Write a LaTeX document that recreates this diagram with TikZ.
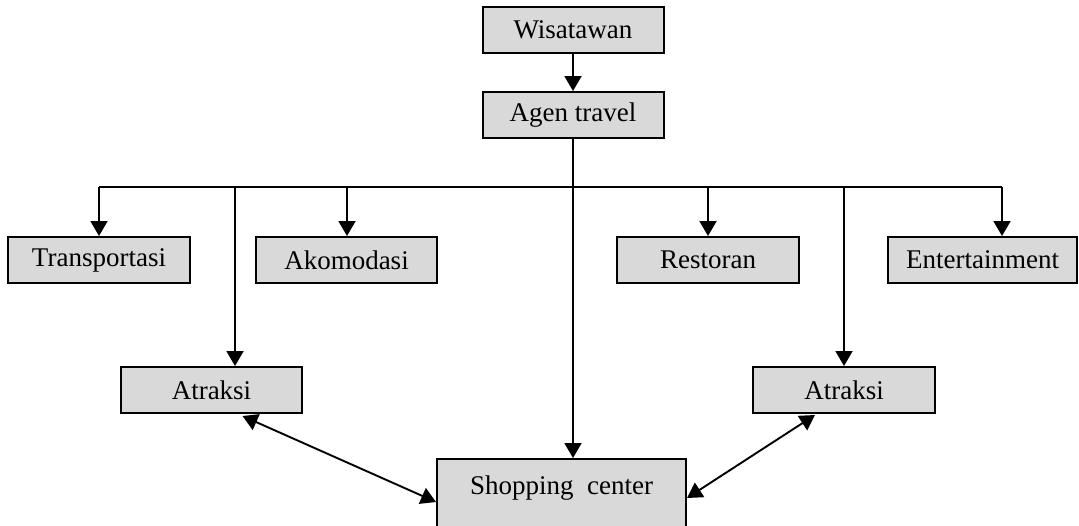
\documentclass[tikz,border=0pt]{standalone}
\usepackage{fontspec}
\setmainfont{Liberation Serif}
\usetikzlibrary{arrows.meta,calc}
\definecolor{boxgray}{RGB}{217,217,217}
\begin{document}
\begin{tikzpicture}[x=0.5pt,y=-0.5pt,
  box/.style={draw=black,line width=1pt,fill=boxgray,rectangle,minimum height=23pt,
    inner sep=0pt,font=\fontsize{13.5}{15}\selectfont},
  conn/.style={line width=0.95pt},
  arr/.style={conn,-{Triangle[width=8.5pt,length=7.5pt]}},
  darr/.style={conn,{Triangle[width=8.5pt,length=7.5pt]}-{Triangle[width=8.5pt,length=7.5pt]}}]
\clip (0,0) rectangle (1079,525);
% nodes
\node[box,minimum width=90.5pt] (wis) at (573,30) {Wisatawan};
\node[box,minimum width=90.5pt] (agen) at (573,115) {Agen travel};
\node[box,minimum width=91pt] (trans) at (99,260) {Transportasi};
\node[box,minimum width=90.5pt] (akom) at (346.5,260) {Akomodasi};
\node[box,minimum width=91pt] (rest) at (708,260) {Restoran};
\node[box,minimum width=94.5pt] (ent) at (982.5,260) {Entertainment};
\node[box,minimum width=90.5pt] (atrL) at (211.5,390) {Atraksi};
\node[box,minimum width=91pt] (atrR) at (844,390) {Atraksi};
\node[box,anchor=north,minimum width=124.5pt,minimum height=0pt,text height=17.5pt,text depth=30pt] (shop) at (561.5,458) {Shopping\ \ center};
% bus coordinates
\coordinate (jT) at (99,187);
\coordinate (jAL) at (235,187);
\coordinate (jAk) at (347,187);
\coordinate (jC) at (573,187);
\coordinate (jR) at (708,187);
\coordinate (jAR) at (844,187);
\coordinate (jE) at (1002,187);
% connectors
\draw[arr] (wis) -- (agen);
\draw[conn] (jT) -- (jE);
\draw[arr] (agen.south -| jC) -- (shop.north -| jC);
\draw[arr] (jT) -- (trans.north);
\draw[arr] (jAk) -- (jAk |- akom.north);
\draw[arr] (jR) -- (rest.north);
\draw[arr] (jE) -- (jE |- ent.north);
\draw[arr] (jAL) -- (jAL |- atrL.north);
\draw[arr] (jAR) -- (atrR.north);
\draw[darr] ($(atrL.south)+(31,2)$) -- ($(shop.north west)+(0,44)$);
\draw[darr] ($(atrR.south)+(-29,1)$) -- ($(shop.north east)+(0,40)$);
\end{tikzpicture}
\end{document}
